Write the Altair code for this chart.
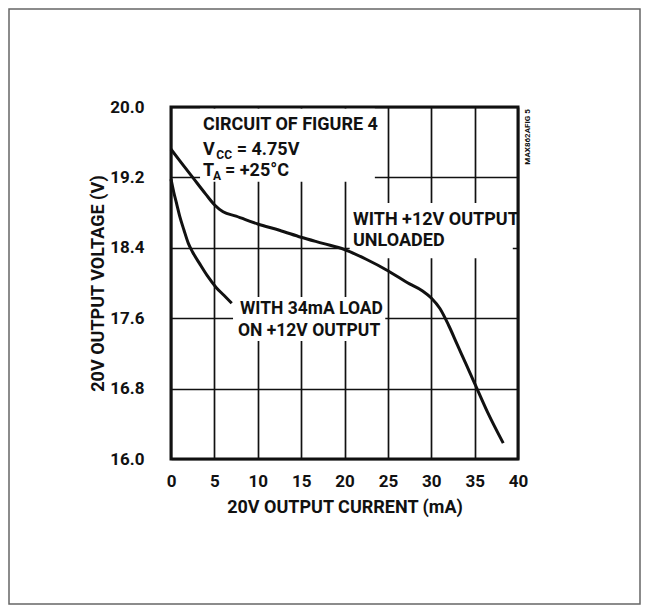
import altair as alt
import pandas as pd

FONT = "Roboto"
INK = "#111111"

# axis ticks
x_ticks = [0, 5, 10, 15, 20, 25, 30, 35, 40]
y_ticks = [16.0, 16.8, 17.6, 18.4, 19.2, 20.0]

# curve: +12V output unloaded
unloaded_ma = [0, 1, 2.5, 4, 5, 6, 7.5, 10, 12.5, 15, 17.5, 20, 22.5, 25, 27.5,
               29, 30, 31, 32, 33, 34, 35, 36.5, 38.3]
unloaded_v = [19.52, 19.39, 19.20, 19.01, 18.89, 18.81, 18.76, 18.67, 18.60, 18.52,
              18.45, 18.38, 18.27, 18.14, 17.99, 17.91, 17.83, 17.71, 17.52, 17.30,
              17.08, 16.86, 16.53, 16.18]

# curve: 34mA load on +12V output
loaded_ma = [0, 0.3, 0.7, 1.0, 1.5, 2.0, 2.5, 3.3, 4.2, 5.2, 6.1, 7.0]
loaded_v = [19.18, 19.04, 18.88, 18.76, 18.60, 18.45, 18.35, 18.22, 18.08, 17.95,
            17.86, 17.77]

# annotation texts (data coordinates)
note_text = ["CIRCUIT OF FIGURE 4", "V", "CC", "= 4.75V", "T", "A", "= +25°C",
             "WITH +12V OUTPUT", "UNLOADED", "WITH 34mA LOAD", "ON +12V OUTPUT"]
note_x = [3.69, 3.69, 5.22, 7.57, 3.69, 4.85, 6.22, 20.98, 20.98, 7.95, 7.72]
note_y = [19.79, 19.51, 19.46, 19.51, 19.27, 19.22, 19.27, 18.72, 18.48, 17.71, 17.46]
note_size = [18, 18, 12, 18, 18, 12, 18, 18, 18, 17.5, 17.5]

# white label backgrounds that interrupt the grid
box_x0 = [3.35, 20.6, 7.15]
box_x1 = [23.5, 39.4, 24.7]
box_y0 = [19.98, 18.91, 17.84]
box_y1 = [19.15, 18.28, 17.34]

fig_id = ["MAX862AFIG 5"]
fig_x = [41.15]
fig_y = [19.66]

curves = pd.DataFrame({
    "ma": unloaded_ma + loaded_ma,
    "v": unloaded_v + loaded_v,
    "series": ["unloaded"] * len(unloaded_ma) + ["loaded"] * len(loaded_ma),
})
notes = pd.DataFrame({"t": note_text, "x": note_x, "y": note_y, "s": note_size})
boxes = pd.DataFrame({"x0": box_x0, "x1": box_x1, "y0": box_y0, "y1": box_y1})
figdf = pd.DataFrame({"t": fig_id, "x": fig_x, "y": fig_y})

xs = alt.Scale(domain=[0, 40], nice=False, zero=False)
ys = alt.Scale(domain=[16, 20], nice=False, zero=False)

xaxis = alt.Axis(values=x_ticks, grid=True, gridColor=INK, gridWidth=1.7,
                 domain=False, ticks=False, labelFont=FONT, labelFontSize=17,
                 labelFontWeight="bold", labelColor=INK, labelPadding=14,
                 labelFlush=False, format="d",
                 title="20V OUTPUT CURRENT (mA)", titleFont=FONT, titleFontSize=18,
                 titleFontWeight="bold", titleColor=INK, titleBaseline="top",
                 titleY=39)
yaxis = alt.Axis(values=y_ticks, grid=True, gridColor=INK, gridWidth=1.7,
                 domain=False, ticks=False, labelFont=FONT, labelFontSize=17,
                 labelFontWeight="bold", labelColor=INK, labelPadding=27,
                 labelFlush=False, format=".1f",
                 title="20V OUTPUT VOLTAGE (V)", titleFont=FONT, titleFontSize=18,
                 titleFontWeight="bold", titleColor=INK, titleBaseline="middle",
                 titleX=-73)

base_curve = alt.Chart(curves).mark_line(color=INK, strokeWidth=3,
                                         interpolate="monotone").encode(
    x=alt.X("ma:Q", scale=xs, axis=xaxis),
    y=alt.Y("v:Q", scale=ys, axis=yaxis),
    detail="series:N",
)

box_layer = alt.Chart(boxes).mark_rect(color="white").encode(
    x=alt.X("x0:Q", scale=xs), x2="x1:Q",
    y=alt.Y("y0:Q", scale=ys), y2="y1:Q",
)

text_layer = alt.Chart(notes).mark_text(font=FONT, fontWeight="bold", color=INK,
                                        align="left", baseline="middle").encode(
    x=alt.X("x:Q", scale=xs), y=alt.Y("y:Q", scale=ys),
    text="t:N", size=alt.Size("s:Q", scale=None, legend=None),
)

fig_layer = alt.Chart(figdf).mark_text(font=FONT, fontWeight="bold", color=INK,
                                       fontSize=8, angle=270, align="center",
                                       baseline="middle").encode(
    x=alt.X("x:Q", scale=xs), y=alt.Y("y:Q", scale=ys), text="t:N",
)

frame = alt.Chart(pd.DataFrame({"a": [0]})).mark_rect(
    fill=None, stroke="#666666", strokeWidth=1.5).encode(
    x=alt.value(-162), x2=alt.value(469), y=alt.value(-98), y2=alt.value(497),
)

chart = alt.layer(box_layer, base_curve, text_layer, fig_layer, frame).properties(
    width=347, height=352,
    padding={"left": 163, "top": 99, "right": 123, "bottom": 147},
    autosize=alt.AutoSizeParams(type="none"),
    background="white",
).configure_view(stroke=INK, strokeWidth=3)

chart.save("out.html", embed_options={"renderer": "svg", "actions": False})
